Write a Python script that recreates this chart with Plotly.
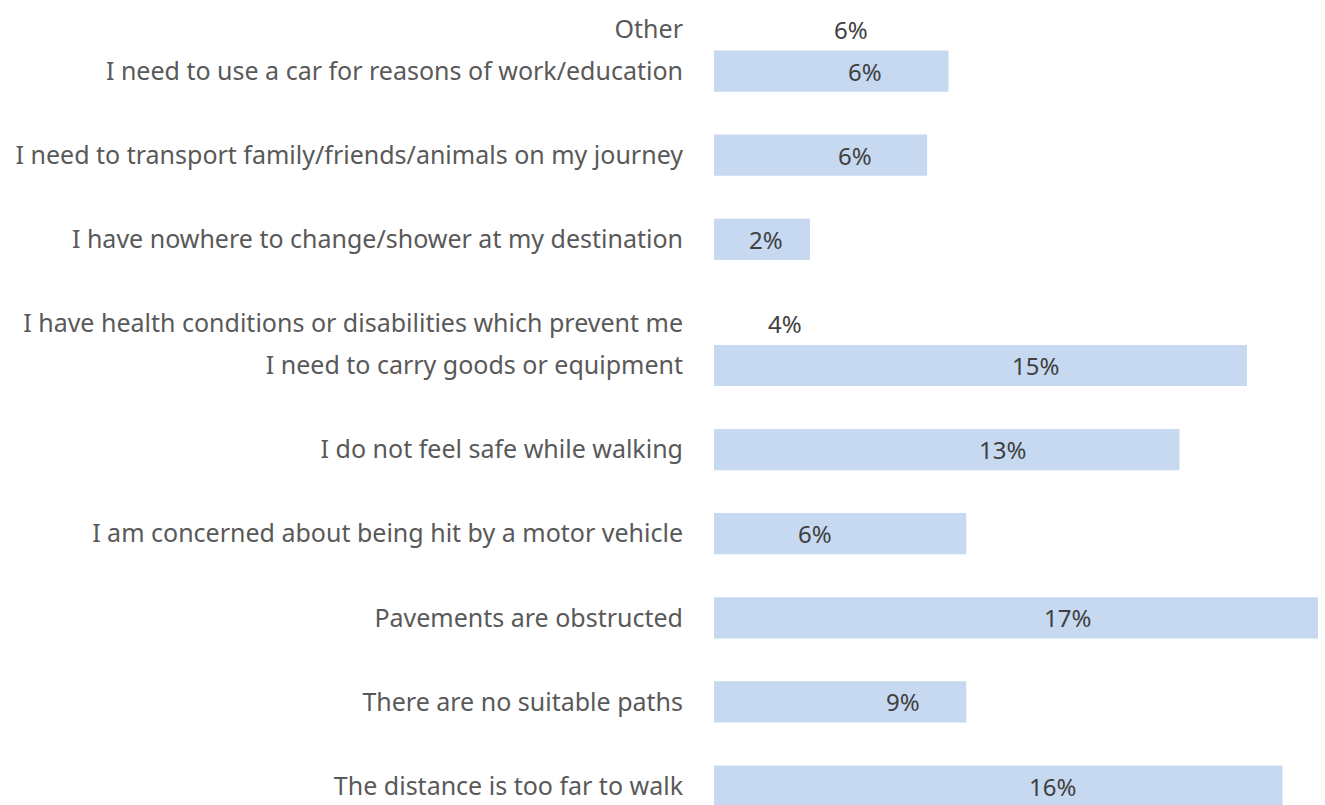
import plotly.graph_objects as go

# ---- data ----
categories = [
    "Other",
    "I need to use a car for reasons of work/education",
    "I need to transport family/friends/animals on my journey",
    "I have nowhere to change/shower at my destination",
    "I have health conditions or disabilities which prevent me",
    "I need to carry goods or equipment",
    "I do not feel safe while walking",
    "I am concerned about being hit by a motor vehicle",
    "Pavements are obstructed",
    "There are no suitable paths",
    "The distance is too far to walk",
]
bar_values = [0, 6.6, 6.0, 2.7, 0, 15.0, 13.1, 7.1, 17.0, 7.1, 16.0]
value_labels = ["6%", "6%", "6%", "2%", "4%", "15%", "13%", "6%", "17%", "9%", "16%"]
label_pos = [3.85, 4.25, 3.97, 1.46, 2.0, 9.06, 8.13, 2.84, 9.96, 5.31, 9.53]

# row layout: blank spacer rows between some categories
row_order = [
    categories[0], categories[1], " ",
    categories[2], "  ",
    categories[3], "   ",
    categories[4], categories[5], "    ",
    categories[6], "     ",
    categories[7], "      ",
    categories[8], "       ",
    categories[9], "        ",
    categories[10],
]

FONT = "Noto Sans, Open Sans, sans-serif"

fig = go.Figure()
fig.add_trace(go.Bar(
    x=bar_values, y=categories, orientation="h",
    marker=dict(color="#C6D9F1", line=dict(width=0)),
    width=0.98, hoverinfo="skip",
))
for xv, yv, tv in zip(label_pos, categories, value_labels):
    fig.add_annotation(
        x=xv, y=yv, text=tv, showarrow=False, xanchor="center", yanchor="middle",
        font=dict(family=FONT, size=24, color="#404040"),
    )

fig.update_layout(
    width=1325, height=805,
    margin=dict(l=714, r=7, t=0, b=0),
    paper_bgcolor="white", plot_bgcolor="white",
    showlegend=False,
    xaxis=dict(range=[0, 17], visible=False, showgrid=False, zeroline=False),
    yaxis=dict(
        type="category", categoryorder="array", categoryarray=row_order,
        range=[18.45, -0.69], showgrid=False, zeroline=False, showline=False,
        ticks="", ticklabelstandoff=30, automargin=False,
        tickfont=dict(family=FONT, size=25, color="#595959"),
    ),
)

fig.write_html(
    "out.html",
    config={"displayModeBar": False},
    post_script="document.body.style.margin='0';document.body.style.overflow='hidden';",
)
